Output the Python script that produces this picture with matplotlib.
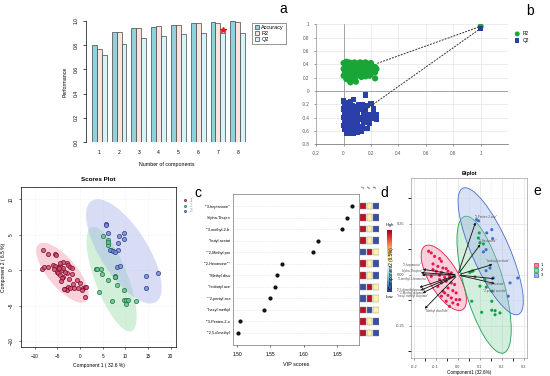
import numpy as np
import matplotlib
matplotlib.use("Agg")
import matplotlib.pyplot as plt
from matplotlib.patches import Ellipse, Rectangle

plt.rcParams['font.family'] = ['Liberation Sans', 'DejaVu Sans']

# ---- panel a: performance vs components
components = [1, 2, 3, 4, 5, 6, 7, 8]
accuracy = [0.80, 0.91, 0.94, 0.95, 0.97, 0.98, 0.99, 1.00]
r2_perf = [0.77, 0.91, 0.94, 0.96, 0.97, 0.98, 0.98, 0.99]
q2_perf = [0.72, 0.81, 0.86, 0.88, 0.89, 0.90, 0.90, 0.90]
best_comp = 7

# ---- panel b: permutation test (x = correlation, y = R2 / Q2)
perm_r2 = [(0.00, 0.42), (0.02, 0.44), (0.04, 0.43), (0.06, 0.42), (0.08, 0.43), (0.10, 0.41),
           (0.12, 0.43), (0.01, 0.38), (0.03, 0.39), (0.05, 0.37), (0.07, 0.39), (0.09, 0.37),
           (0.11, 0.38), (0.00, 0.33), (0.02, 0.34), (0.04, 0.32), (0.06, 0.34), (0.08, 0.32),
           (0.10, 0.33), (0.12, 0.34), (0.01, 0.28), (0.03, 0.29), (0.05, 0.27), (0.07, 0.29),
           (0.09, 0.27), (0.11, 0.28), (0.00, 0.23), (0.02, 0.24), (0.04, 0.22), (0.06, 0.24),
           (0.08, 0.22), (0.10, 0.23), (0.02, 0.18), (0.04, 0.16), (0.06, 0.19), (0.08, 0.17),
           (0.05, 0.13), (0.09, 0.14), (0.14, 0.42), (0.16, 0.43), (0.18, 0.41), (0.20, 0.42),
           (0.14, 0.37), (0.16, 0.38), (0.18, 0.36), (0.21, 0.37), (0.23, 0.36), (0.14, 0.31),
           (0.16, 0.32), (0.19, 0.31), (0.22, 0.32), (0.24, 0.33), (0.14, 0.26), (0.17, 0.27),
           (0.20, 0.26), (0.23, 0.28), (0.13, 0.21), (0.16, 0.22), (0.19, 0.23), (0.23, 0.19),
           (1.00, 0.97)]
perm_q2 = [(0.00, -0.15), (0.02, -0.17), (0.05, -0.16), (0.07, -0.13), (0.01, -0.21), (0.03, -0.23),
           (0.06, -0.22), (0.09, -0.24), (0.11, -0.21), (0.00, -0.27), (0.02, -0.29), (0.04, -0.28),
           (0.07, -0.30), (0.10, -0.29), (0.12, -0.27), (0.01, -0.34), (0.03, -0.35), (0.05, -0.33),
           (0.08, -0.36), (0.10, -0.34), (0.00, -0.40), (0.02, -0.41), (0.04, -0.39), (0.06, -0.42),
           (0.09, -0.40), (0.11, -0.42), (0.01, -0.46), (0.03, -0.47), (0.05, -0.45), (0.08, -0.48),
           (0.10, -0.46), (0.00, -0.52), (0.02, -0.53), (0.04, -0.51), (0.07, -0.54), (0.09, -0.52),
           (0.12, -0.53), (0.01, -0.58), (0.03, -0.59), (0.05, -0.57), (0.08, -0.60), (0.10, -0.58),
           (0.02, -0.63), (0.04, -0.64), (0.07, -0.63), (0.10, -0.62), (0.14, -0.20), (0.17, -0.22),
           (0.20, -0.19), (0.13, -0.26), (0.16, -0.28), (0.22, -0.27), (0.15, -0.33), (0.18, -0.35),
           (0.22, -0.33), (0.24, -0.36), (0.14, -0.40), (0.17, -0.42), (0.21, -0.41), (0.24, -0.42),
           (0.15, -0.47), (0.19, -0.49), (0.14, -0.54), (0.17, -0.56), (0.13, -0.60), (0.16, -0.06),
           (1.00, 0.94)]
r2_line_x = [0.246, 1.0]
r2_line_y = [0.415, 0.97]
q2_line_x = [0.14, 1.0]
q2_line_y = [-0.31, 0.94]

# ---- scores plot
s1_x = [-8.1, -7.0, -5.4, -5.2, -8.4, -7.9, -7.0, -5.9, -4.8, -4.4, -3.7, -2.9, -2.6, -2.2, -1.8,
        -4.0, -5.1, -4.8, -4.4, -3.7, -4.0, -2.9, -1.8, -0.7, -1.5, 0.0, -2.6, -3.3, -2.9, -2.2,
        0.6, 1.1, 1.3, 0.4, -0.4, 1.1, -5.5, -4.6, -3.8, -4.4, -5.8, -3.2, -2.4, -1.2, -3.5, -4.2]
s1_y = [2.8, 2.3, 2.3, 2.1, 0.2, 0.4, 0.4, 0.7, 0.5, 0.6, 1.2, 1.0, 0.7, 0.5, 0.3,
        0.0, -0.2, -0.4, -0.7, -0.9, -1.1, -0.4, -0.6, -1.4, -2.0, -1.8, -2.3, -2.7, -2.8, -2.5,
        -2.5, -2.3, -2.4, -2.8, -2.5, -3.7, 0.6, 0.3, 0.3, 1.0, 0.1, -0.2, -1.2, -2.5, -2.6, -1.5]
s2_x = [5.0, 6.2, 6.2, 6.1, 6.8, 3.5, 3.8, 4.6, 4.8, 7.7, 7.8, 6.3, 8.2, 4.3, 9.7, 7.0, 9.7,
        10.2, 10.6, 12.3, 10.1, 7.7]
s2_y = [4.8, 4.3, 3.6, 3.9, 2.8, 0.2, 0.2, 0.1, -0.5, -0.8, -1.0, -1.4, -2.1, -3.0, -2.8, -4.3,
        -4.2, -4.2, -4.2, -4.4, -4.8, -0.9]
s3_x = [5.7, 5.7, 6.3, 8.7, 9.8, 9.8, 8.5, 6.6, 7.4, 8.5, 8.2, 8.9, 14.5, 17.2, 14.5, 7.8]
s3_y = [6.5, 6.3, 5.3, 4.8, 5.3, 4.4, 3.8, 2.8, 2.7, 2.9, 0.4, 0.6, -0.8, -0.4, -2.5, 2.6]

# ---- VIP scores + group heat map
vip_names = ['""3-heptanone"', '"alpha-Thujen', '""3-methyl-2-b', '"butyl acetat',
             '""2-Methyl pro', '""2-Hexanone""', '"Methyl disu', '"Isobutyl ace',
             '""2-pentyl ace', '"hexyl methyl', '""3-Penten-2-o', '""2,5-dimethyl']
vip_scores = [1.672, 1.665, 1.657, 1.622, 1.614, 1.567, 1.560, 1.557, 1.549, 1.541, 1.505, 1.501]
# relative level per group (1, 2, 3): 1 = high, 0.5 = mid, 0 = low
vip_levels = [[1, 0.55, 0], [1, 0.55, 0], [1, 0.55, 0], [1, 0.55, 0], [0, 1, 0.55], [1, 0.55, 0],
              [1, 0.55, 0], [0, 1, 0.55], [0, 1, 0.55], [1, 0, 0.55], [1, 0.55, 0], [1, 0.55, 0]]
groups = ['1', '2', '3']

# ---- biplot
b1_x = [-0.132, -0.120, -0.105, -0.082, -0.074, -0.112, -0.090, -0.067, -0.052, -0.097, -0.074,
        -0.044, -0.029, -0.082, -0.059, -0.037, -0.120, -0.052, -0.074, -0.029, -0.014, -0.090,
        -0.044, -0.067, -0.022, -0.007, -0.044, -0.074, -0.029, -0.007, 0.009, -0.052, -0.022,
        0.001, -0.037, -0.059, -0.082, -0.112]
b1_y = [0.116, 0.108, 0.091, 0.080, 0.067, 0.054, 0.042, 0.034, 0.031, 0.018, 0.013, 0.018, 0.010,
        -0.002, -0.012, -0.007, -0.007, -0.031, -0.039, -0.039, -0.047, -0.056, -0.064, -0.080,
        -0.077, -0.088, -0.100, -0.104, -0.113, -0.121, -0.121, -0.129, -0.137, -0.145, -0.154,
        -0.088, -0.023, 0.026]
b2_x = [0.098, 0.094, 0.101, 0.117, 0.064, 0.070, 0.055, 0.079, 0.124, 0.101, 0.155, 0.064, 0.155,
        0.109, 0.155, 0.170, 0.192, 0.170, 0.130]
b2_y = [0.206, 0.181, 0.157, 0.152, 0.018, 0.020, 0.012, -0.010, -0.023, -0.055, -0.080, -0.129,
        -0.129, -0.183, -0.173, -0.175, -0.186, -0.195, -0.060]
b3_x = [0.086, 0.095, 0.155, 0.132, 0.159, 0.129, 0.117, 0.147, 0.129, 0.273, 0.238, 0.230, 0.162]
b3_y = [0.271, 0.265, 0.222, 0.206, 0.178, 0.124, 0.113, 0.034, 0.021, -0.015, -0.039, -0.104, -0.015]
load_names = ['"3-Penten-2-one"', '"2-Hexanone"', '"Isobutyl acetate"', '"butyl acetate"',
              '"2-pentyl acetate"', '"3-heptanone"', '"alpha-Thujene"', '"3-methyl-2-butanone"',
              '"2,5-dimethylpyrazine"', '"2-Methyl propanal"', '"hexyl methyl butyrate"',
              '"Methyl disulfide"']
load_x = [0.085, 0.110, 0.170, 0.180, 0.180, -0.170, -0.180, -0.175, -0.185, -0.180, -0.170, -0.158]
load_y = [0.270, 0.160, 0.055, -0.020, -0.045, 0.030, 0.012, 0.000, -0.065, -0.080, -0.095, -0.175]

W, H = 550, 376
fig = plt.figure(figsize=(5.5, 3.76), dpi=100)


def rect(x0, y0, x1, y1):
    return [x0 / W, 1 - y1 / H, (x1 - x0) / W, (y1 - y0) / H]


tk = 3.6

# ================= panel a
ax = fig.add_axes(rect(86, 21, 248, 142))
xs = np.array(components)
bw = 0.25
ax.bar(xs - bw, accuracy, bw, color='#8fd2dd', edgecolor='#444444', linewidth=0.5, label='Accuracy')
ax.bar(xs, r2_perf, bw, color='#fde3dd', edgecolor='#444444', linewidth=0.5, label='R2')
ax.bar(xs + bw, q2_perf, bw, color='#d6f4f7', edgecolor='#444444', linewidth=0.5, label='Q2')
ax.plot(best_comp + bw, q2_perf[best_comp - 1] + 0.025, marker='*', color='#e02020', ms=4)
ax.set_xlim(0.33, 8.52)
ax.set_ylim(0, 1)
for s in ['top', 'right', 'bottom']:
    ax.spines[s].set_visible(False)
ax.spines['left'].set_linewidth(0.5)
ax.set_xticks(components)
ax.set_yticks([0, 0.2, 0.4, 0.6, 0.8, 1.0])
ax.set_yticklabels(['0.0', '0.2', '0.4', '0.6', '0.8', '1.0'], rotation=90, va='center')
ax.tick_params(axis='x', length=0, labelsize=tk, pad=6)
ax.tick_params(axis='y', length=2, width=0.5, labelsize=tk)
ax.set_xlabel('Number of components', fontsize=3.8, labelpad=5)
ax.set_ylabel('Performance', fontsize=3.8)
leg = ax.legend(loc='upper left', bbox_to_anchor=(1.01, 1.01), fontsize=4, frameon=True,
                fancybox=False, edgecolor='#444444', handlelength=0.8, handleheight=0.8,
                borderpad=0.4, labelspacing=0.2, handletextpad=0.4)
leg.get_frame().set_linewidth(0.5)
fig.text(283 / W, 1 - 9 / H, 'a', fontsize=10, ha='center', va='center')

# ================= panel b
ax = fig.add_axes(rect(316.2, 24.4, 508, 144.3))
ax.set_xlim(-0.2, 1.2)
ax.set_ylim(-0.8, 1.0)
for v in np.arange(-0.2, 1.21, 0.2):
    ax.axvline(v, color='#e4e4e4', lw=0.5, zorder=0)
for v in np.arange(-0.8, 1.01, 0.2):
    ax.axhline(v, color='#e4e4e4', lw=0.5, zorder=0)
ax.axvline(0, color='#999999', lw=0.6, zorder=0)
ax.axhline(0, color='#999999', lw=0.6, zorder=0)
rx, ry = zip(*perm_r2)
qx, qy = zip(*perm_q2)
ax.scatter(rx, ry, s=20, marker='o', color='#1aa637', edgecolors='none', zorder=2, label='R2')
ax.scatter(qx, qy, s=15, marker='s', color='#2a3fa8', edgecolors='none', zorder=2, label='Q2')
ax.plot(r2_line_x, r2_line_y, color='#333333', lw=0.7, dashes=(2, 1.2), zorder=3)
ax.plot(q2_line_x, q2_line_y, color='#333333', lw=0.7, dashes=(2, 1.2), zorder=3)
for s in ['top', 'right']:
    ax.spines[s].set_visible(False)
ax.spines['left'].set_color('#999999')
ax.spines['bottom'].set_color('#666666')
ax.spines['left'].set_linewidth(0.5)
ax.spines['bottom'].set_linewidth(0.5)
ax.set_xticks([-0.2, 0, 0.2, 0.4, 0.6, 0.8, 1.0])
ax.set_xticklabels(['-0.2', '0', '0.2', '0.4', '0.6', '0.8', '1'])
ax.set_yticks([-0.8, -0.6, -0.4, -0.2, 0, 0.2, 0.4, 0.6, 0.8, 1.0])
ax.set_yticklabels(['-0.8', '-0.6', '-0.4', '-0.2', '0', '0.2', '0.4', '0.6', '0.8', '1'])
ax.tick_params(labelsize=3.3, length=1.5, width=0.4, colors='#555555')
ax.legend(loc='upper left', bbox_to_anchor=(1.0, 0.98), fontsize=3.5, frameon=False,
          handletextpad=0.2, labelspacing=0.3, markerscale=0.8)
fig.text(530 / W, 1 - 11 / H, 'b', fontsize=10, ha='center', va='center')

# ================= scores plot
ax = fig.add_axes(rect(21, 187, 176, 347))
ax.set_xlim(-13, 21.2)
ax.set_ylim(-10.8, 11.7)
ax.grid(True, color='#e6e6e6', lw=0.4, ls=':')
ax.set_axisbelow(True)
ax.add_patch(Ellipse((-3.85, -0.35), 13.46, 5.0, angle=-32.9, color='#f29aae', alpha=0.45, lw=0))
ax.add_patch(Ellipse((7.0, -1.25), 17.2, 6.6, angle=-56, color='#9bdcab', alpha=0.45, lw=0))
ax.add_patch(Ellipse((9.7, 2.65), 20.5, 8.6, angle=-39.7, color='#a9b4ea', alpha=0.45, lw=0))
ax.scatter(s1_x, s1_y, s=9, facecolor='#d0506f', edgecolor='#7a0a25', lw=0.6, alpha=0.85, label='1')
ax.scatter(s2_x, s2_y, s=9, facecolor='#6cc48a', edgecolor='#17704a', lw=0.6, alpha=0.85, label='2')
ax.scatter(s3_x, s3_y, s=9, facecolor='#7c8fd6', edgecolor='#263a8a', lw=0.6, alpha=0.85, label='3')
ax.set_xticks([-10, -5, 0, 5, 10, 15, 20])
ax.set_yticks([-10, -5, 0, 5, 10])
ax.tick_params(labelsize=3.3, length=1.5, width=0.4)
for lab in ax.get_yticklabels():
    lab.set_rotation(90)
    lab.set_va('center')
for s in ax.spines.values():
    s.set_linewidth(0.5)
ax.set_title('Scores Plot', fontsize=4.5, fontweight='bold', pad=4)
ax.set_xlabel('Component 1 ( 32.6 %)', fontsize=3.6, labelpad=3)
ax.set_ylabel('Component 2 ( 6.5 %)', fontsize=3.6, labelpad=2)
ax.legend(loc='upper left', bbox_to_anchor=(1.0, 0.96), fontsize=3.3, frameon=False,
          handletextpad=0.1, labelspacing=0.1, markerscale=0.5, labelcolor='linecolor')

# ================= panel c (VIP)
ax = fig.add_axes(rect(233, 194, 359, 345))
rows = np.arange(1, len(vip_names) + 1)
for r in rows:
    ax.axhline(r, color='#d9d9d9', lw=0.5, ls=':', zorder=0)
ax.scatter(vip_scores, rows, s=4, color='#111111', zorder=3)
ax.set_xlim(1.494, 1.683)
ax.set_ylim(13.04, -0.04)
ax.set_yticks(rows)
ax.set_yticklabels(vip_names)
ax.set_xticks([1.50, 1.55, 1.60, 1.65])
ax.set_xticklabels(['1.50', '1.55', '1.60', '1.65'])
ax.tick_params(axis='y', length=0, labelsize=2.8, pad=2)
ax.tick_params(axis='x', length=1.5, width=0.4, labelsize=3.6)
for s in ax.spines.values():
    s.set_linewidth(0.4)
    s.set_color('#555555')
ax.set_xlabel('VIP scores', fontsize=4, labelpad=4)
fig.text(198 / W, 1 - 193 / H, 'c', fontsize=10, ha='center', va='center')

# ================= panel d (group heat map)
cmap = plt.get_cmap('RdYlBu_r')
ax = fig.add_axes(rect(360, 194, 379, 345))
ax.set_xlim(0, 3)
ax.set_ylim(13.04, -0.04)
ax.axis('off')
for r, lv in zip(rows, vip_levels):
    for j, v in enumerate(lv):
        ax.add_patch(Rectangle((j + 0.05, r - 0.28), 0.9, 0.56, facecolor=cmap(0.04 + 0.92 * v),
                               edgecolor='#888888', lw=0.3))
for j, g in enumerate(groups):
    ax.text(j + 0.5, -0.4, g, fontsize=2.8, rotation=60, ha='center', va='bottom')
cax = fig.add_axes(rect(387, 230, 392, 292))
cax.imshow(np.linspace(1, 0, 100).reshape(-1, 1), aspect='auto', cmap=cmap)
cax.set_xticks([])
cax.set_yticks([])
for s in cax.spines.values():
    s.set_visible(False)
fig.text(389.5 / W, 1 - 225 / H, 'High', fontsize=3, ha='center', va='center')
fig.text(389.5 / W, 1 - 297 / H, 'Low', fontsize=3, ha='center', va='center')
fig.text(384 / W, 1 - 193 / H, 'd', fontsize=10, ha='center', va='center')

# ================= panel e (biplot)
ax = fig.add_axes(rect(411, 178, 527, 358))
ax.set_xlim(-0.212, 0.315)
ax.set_ylim(-0.407, 0.475)
ax.set_xticks([-0.2, -0.1, 0.0, 0.1, 0.2, 0.3])
ax.set_xticks([-0.15, -0.05, 0.05, 0.15, 0.25], minor=True)
ax.set_yticks([-0.25, 0.0, 0.25])
ax.set_yticks([-0.375, -0.125, 0.125, 0.375], minor=True)
ax.grid(True, which='major', color='#e3e3e3', lw=0.5)
ax.grid(True, which='minor', color='#f1f1f1', lw=0.4)
ax.set_axisbelow(True)
ells = [((-0.063, -0.014), 0.356, 0.136, -62.0, '#f28aa5', '#d8204f'),
        ((0.120, -0.048), 0.692, 0.180, -75.4, '#8fd6a8', '#18a050'),
        ((0.150, 0.116), 0.668, 0.172, -68.0, '#9fb4ea', '#4a6fc8')]
for c, w, h, a, fc, ec in ells:
    ax.add_patch(Ellipse(c, w, h, angle=a, facecolor=fc, alpha=0.4, edgecolor='none'))
    ax.add_patch(Ellipse(c, w, h, angle=a, fill=False, edgecolor=ec, lw=0.6))
ax.scatter(b1_x, b1_y, s=5, color='#e8174f', edgecolors='none', zorder=3)
ax.scatter(b2_x, b2_y, s=5, color='#10a04a', edgecolors='none', zorder=3)
ax.scatter(b3_x, b3_y, s=5, color='#3d6fd0', edgecolors='none', zorder=3)
# label offsets (dx, dy) from each arrow tip
lab_off = [(0.045, 0.013), (0.028, 0.007), (0.01, 0.013), (-0.012, -0.024), (-0.01, -0.032),
           (-0.035, 0.018), (-0.025, 0.008), (-0.03, -0.018), (-0.02, -0.007), (-0.025, -0.007),
           (-0.035, -0.010), (0.065, 0.0)]
for nm, lx, ly, (dx, dy) in zip(load_names, load_x, load_y, lab_off):
    ax.annotate('', xy=(lx, ly), xytext=(0, 0),
                arrowprops=dict(arrowstyle='-|>', color='#111111', lw=0.6, mutation_scale=3), zorder=4)
    ax.text(lx + dx, ly + dy, nm, fontsize=2.2, color='#555555', ha='center', va='center', zorder=5)
ax.tick_params(labelsize=2.8, length=1.2, width=0.4, colors='#444444')
ax.set_yticklabels(['-0.25', '0.00', '0.25'])
ax.set_xticklabels(['-0.2', '-0.1', '0.0', '0.1', '0.2', '0.3'])
for s in ax.spines.values():
    s.set_linewidth(0.4)
    s.set_color('#888888')
ax.set_title('Biplot', fontsize=4, fontweight='bold', pad=2.5)
ax.set_xlabel('Component1 (32.6%)', fontsize=3.3, labelpad=1)
ax.set_ylabel('Component2 (6.5%)', fontsize=3.3, labelpad=1)
for j, (g, (_, _, _, _, fc, ec)) in enumerate(zip(groups, ells)):
    yy = 265 + j * 5
    fig.patches.append(Rectangle((534 / W, 1 - (yy + 2) / H), 4 / W, 4 / H, transform=fig.transFigure,
                                 facecolor=fc, edgecolor=ec, lw=0.5))
    fig.text(541 / W, 1 - yy / H, g, fontsize=3, ha='left', va='center')
fig.text(537 / W, 1 - 191 / H, 'e', fontsize=10, ha='center', va='center')

fig.savefig('out.png', dpi=100)
